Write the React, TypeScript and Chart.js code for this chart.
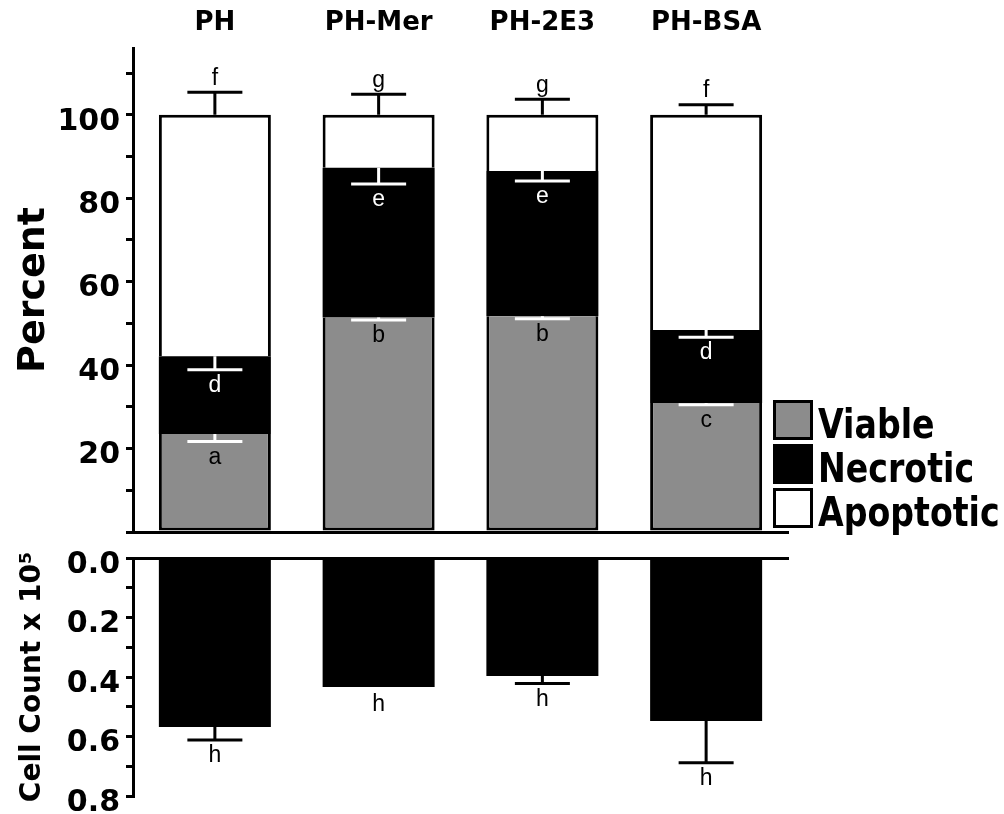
import React, { useEffect, useRef } from 'react';
import { Chart, registerables } from 'chart.js';

Chart.register(...registerables);

// ---------- data ----------
const categories = ['PH', 'PH-Mer', 'PH-2E3', 'PH-BSA'];
const viable = [23.5, 51.4, 51.7, 30.9];
const necrotic = [18.6, 35.9, 34.8, 17.5];
const apoptotic = [57.9, 12.7, 13.5, 51.6];
const viableErr = [1.8, 0.6, 0.6, 0.4];
const necroticErr = [3.2, 3.9, 2.4, 1.7];
const apoptoticErr = [5.4, 4.9, 3.7, 2.4];
const viableLetters = ['a', 'b', 'b', 'c'];
const necroticLetters = ['d', 'e', 'e', 'd'];
const apoptoticLetters = ['f', 'g', 'g', 'f'];
const cellCount = [0.568, 0.434, 0.397, 0.548];
const cellCountErr = [0.044, 0, 0.025, 0.14];
const cellCountLetters = ['h', 'h', 'h', 'h'];
const legendLabels = ['Viable', 'Necrotic', 'Apoptotic'];
const percentTicks = [20, 40, 60, 80, 100];
const countTicks = [0, 0.2, 0.4, 0.6, 0.8];

// ---------- styles ----------
const GREY = '#8c8c8c';
const BOLD = "'DejaVu Sans', 'Liberation Sans', sans-serif";
const LETTER_FONT = "23px 'Liberation Sans', Arial, sans-serif";
const legendFills = [GREY, '#000000', '#ffffff'];

function drawErr(ctx: CanvasRenderingContext2D, x: number, y0: number, y1: number, color: string) {
  ctx.save();
  ctx.strokeStyle = color;
  ctx.lineWidth = 3;
  ctx.beginPath();
  ctx.moveTo(x, y0);
  ctx.lineTo(x, y1);
  ctx.moveTo(x - 27.5, y1);
  ctx.lineTo(x + 27.5, y1);
  ctx.stroke();
  ctx.restore();
}

function drawLetter(ctx: CanvasRenderingContext2D, t: string, x: number, y: number, color: string) {
  ctx.save();
  ctx.font = LETTER_FONT;
  ctx.fillStyle = color;
  ctx.textAlign = 'center';
  ctx.textBaseline = 'middle';
  ctx.fillText(t, x, y);
  ctx.restore();
}

function noPad(s: any) {
  s.paddingTop = 0;
  s.paddingBottom = 0;
  s.paddingLeft = 0;
  s.paddingRight = 0;
}

const upperMarks = {
  id: 'upperMarks',
  afterDatasetsDraw(chart: any) {
    const ctx = chart.ctx as CanvasRenderingContext2D;
    const y = chart.scales.y;
    const bars = chart.getDatasetMeta(0).data;
    categories.forEach((_, i) => {
      const x = bars[i].x;
      const vTop = viable[i];
      const nTop = viable[i] + necrotic[i];
      const aTop = nTop + apoptotic[i];
      const vCap = y.getPixelForValue(vTop - viableErr[i]);
      const nCap = y.getPixelForValue(nTop - necroticErr[i]);
      const aCap = y.getPixelForValue(aTop + apoptoticErr[i]);
      drawErr(ctx, x, y.getPixelForValue(vTop), vCap, '#ffffff');
      drawErr(ctx, x, y.getPixelForValue(nTop), nCap, '#ffffff');
      drawErr(ctx, x, y.getPixelForValue(aTop), aCap, '#000000');
      drawLetter(ctx, viableLetters[i], x, vCap + 16, '#000000');
      drawLetter(ctx, necroticLetters[i], x, nCap + 16, '#ffffff');
      drawLetter(ctx, apoptoticLetters[i], x, aCap - 14, '#000000');
    });
  },
  afterDraw(chart: any) {
    const ctx = chart.ctx as CanvasRenderingContext2D;
    legendLabels.forEach((label, i) => {
      const top = 400 + i * 44;
      ctx.save();
      ctx.fillStyle = '#000000';
      ctx.fillRect(773, top, 40, 40);
      ctx.fillStyle = legendFills[i];
      ctx.fillRect(776, top + 3, 34, 34);
      ctx.translate(818, top + 38);
      ctx.scale(0.83, 1);
      ctx.font = `bold 40px ${BOLD}`;
      ctx.fillStyle = '#000000';
      ctx.textBaseline = 'alphabetic';
      ctx.textAlign = 'left';
      ctx.fillText(label, 0, 0);
      ctx.restore();
    });
  },
};

const lowerMarks = {
  id: 'lowerMarks',
  afterDatasetsDraw(chart: any) {
    const ctx = chart.ctx as CanvasRenderingContext2D;
    const y = chart.scales.y;
    const bars = chart.getDatasetMeta(0).data;
    categories.forEach((_, i) => {
      const x = bars[i].x;
      const end = y.getPixelForValue(cellCount[i]);
      if (cellCountErr[i] > 0) {
        const cap = y.getPixelForValue(cellCount[i] + cellCountErr[i]);
        drawErr(ctx, x, end, cap, '#000000');
        drawLetter(ctx, cellCountLetters[i], x, cap + 16, '#000000');
      } else {
        drawLetter(ctx, cellCountLetters[i], x, end + 18, '#000000');
      }
    });
  },
};

export default function App() {
  const upperRef = useRef<HTMLCanvasElement>(null);
  const lowerRef = useRef<HTMLCanvasElement>(null);

  useEffect(() => {
    const upper = new Chart(upperRef.current as HTMLCanvasElement, {
      type: 'bar',
      data: {
        labels: categories,
        datasets: [
          {
            label: 'Viable',
            data: viable,
            backgroundColor: GREY,
            borderColor: '#000000',
            borderWidth: { left: 3, right: 3, bottom: 3, top: 0 },
            borderSkipped: false,
          },
          {
            label: 'Necrotic',
            data: necrotic,
            backgroundColor: '#000000',
            borderWidth: 0,
          },
          {
            label: 'Apoptotic',
            data: apoptotic,
            backgroundColor: '#ffffff',
            borderColor: '#000000',
            borderWidth: { left: 3, right: 3, top: 3, bottom: 0 },
            borderSkipped: false,
          },
        ] as any,
      },
      options: {
        responsive: false,
        animation: false,
        datasets: { bar: { barPercentage: 0.684, categoryPercentage: 1 } },
        layout: { padding: { left: 0, right: 216, top: 0, bottom: 0 } },
        plugins: { legend: { display: false }, tooltip: { enabled: false } },
        scales: {
          x: {
            stacked: true,
            position: 'bottom',
            grid: { display: false, drawTicks: false },
            border: { display: true, color: '#000000', width: 3 },
            ticks: { display: false },
            afterFit: (s: any) => { s.height = 13; noPad(s); },
          },
          xTop: {
            type: 'category',
            labels: categories,
            position: 'top',
            offset: true,
            grid: { display: false, drawTicks: false },
            border: { display: false },
            ticks: {
              color: '#000000',
              font: { family: BOLD, size: 26, weight: 'bold' },
              padding: 9,
              maxRotation: 0,
              autoSkip: false,
            },
            afterFit: (s: any) => { s.height = 48; noPad(s); },
          },
          y: {
            stacked: true,
            min: 0,
            max: 116,
            position: 'left',
            grid: { display: true, drawOnChartArea: false, drawTicks: true, tickLength: 7, color: '#000000', lineWidth: 3 },
            border: { display: true, color: '#000000', width: 3 },
            ticks: {
              stepSize: 10,
              includeBounds: false,
              autoSkip: false,
              color: '#000000',
              padding: 6,
              labelOffset: 7,
              font: { family: BOLD, size: 30, weight: 'bold' },
              callback: (v: any) => (percentTicks.includes(Number(v)) ? String(v) : ''),
            },
            title: {
              display: true,
              text: 'Percent',
              color: '#000000',
              font: { family: BOLD, size: 38, weight: 'bold' },
              padding: { top: 11, bottom: 0 },
            },
            afterFit: (s: any) => { s.width = 133; noPad(s); },
          },
        } as any,
      },
      plugins: [upperMarks],
    });

    const lower = new Chart(lowerRef.current as HTMLCanvasElement, {
      type: 'bar',
      data: {
        labels: categories,
        datasets: [
          {
            label: 'Cell Count',
            data: cellCount,
            backgroundColor: '#000000',
            borderWidth: 0,
          },
        ],
      },
      options: {
        responsive: false,
        animation: false,
        datasets: { bar: { barPercentage: 0.684, categoryPercentage: 1 } },
        layout: { padding: { left: 0, right: 216, top: 0, bottom: 18 } },
        plugins: { legend: { display: false }, tooltip: { enabled: false } },
        scales: {
          x: {
            position: 'top',
            grid: { display: false, drawTicks: false },
            border: { display: true, color: '#000000', width: 3 },
            ticks: { display: false },
            afterFit: (s: any) => { s.height = 18; noPad(s); },
          },
          y: {
            reverse: true,
            min: 0,
            max: 0.8,
            position: 'left',
            grid: { display: true, drawOnChartArea: false, drawTicks: true, tickLength: 7, color: '#000000', lineWidth: 3 },
            border: { display: true, color: '#000000', width: 3 },
            ticks: {
              stepSize: 0.1,
              autoSkip: false,
              color: '#000000',
              padding: 6,
              labelOffset: 7,
              font: { family: BOLD, size: 30, weight: 'bold' },
              callback: (v: any) =>
                countTicks.some((t) => Math.abs(t - Number(v)) < 1e-6) ? Number(v).toFixed(1) : '',
            },
            title: {
              display: true,
              text: 'Cell Count x 10\u2075',
              color: '#000000',
              font: { family: BOLD, size: 28, weight: 'bold' },
              padding: { top: 16, bottom: 0 },
            },
            afterFit: (s: any) => { s.width = 133; noPad(s); },
          },
        } as any,
      },
      plugins: [lowerMarks],
    });

    return () => {
      upper.destroy();
      lower.destroy();
    };
  }, []);

  return (
    <div style={{ position: 'absolute', left: 0, top: 0, width: 1004, height: 814, background: '#ffffff' }}>
      <canvas ref={upperRef} width={1004} height={545} style={{ position: 'absolute', left: 0, top: 0 }} />
      <canvas ref={lowerRef} width={1004} height={274} style={{ position: 'absolute', left: 0, top: 540 }} />
    </div>
  );
}
